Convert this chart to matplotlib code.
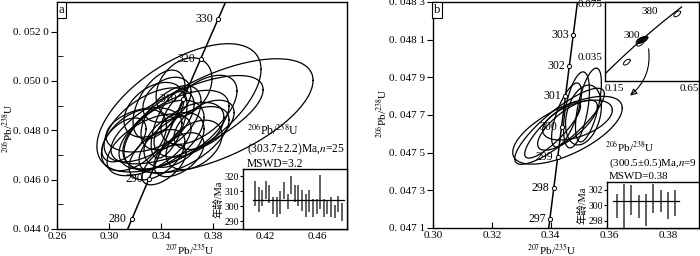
import numpy as np
import matplotlib
matplotlib.use('Agg')
import matplotlib.pyplot as plt

plt.rcParams['font.family'] = ['Liberation Serif', 'Noto Sans CJK SC']
plt.rcParams['mathtext.fontset'] = 'stix'
plt.rcParams['axes.linewidth'] = 1.0

# decay constants (1/yr) for the concordia curve
L238 = 1.55125e-10
L235 = 9.8485e-10

# ---- panel a: spots (207/235, 1s, 206/238, 1s, rho) ----
a_x = [0.3538, 0.3838, 0.3600, 0.3577, 0.3446, 0.3308, 0.3423, 0.3192, 0.3500, 0.3369,
       0.3615, 0.3692, 0.3477, 0.3346, 0.3269, 0.3538, 0.3423, 0.3654, 0.3115, 0.3731,
       0.3462, 0.3385, 0.3577, 0.3308, 0.3500]
a_sx = [0.0631, 0.0731, 0.0585, 0.0215, 0.0185, 0.0346, 0.0308, 0.0250, 0.0231, 0.0215,
        0.0269, 0.0292, 0.0231, 0.0231, 0.0292, 0.0192, 0.0169, 0.0215, 0.0170, 0.0231,
        0.0138, 0.0200, 0.0346, 0.0323, 0.0423]
a_y = [0.04891, 0.04859, 0.04843, 0.04973, 0.04924, 0.04822, 0.04782, 0.04761, 0.04761, 0.04701,
       0.04802, 0.04883, 0.04851, 0.04883, 0.04802, 0.04701, 0.04660, 0.04741, 0.04761, 0.04822,
       0.04822, 0.04904, 0.04761, 0.04741, 0.04802]
a_sy = [0.00260, 0.00231, 0.00179, 0.00121, 0.00091, 0.00150, 0.00140, 0.00125, 0.00111, 0.00102,
        0.00111, 0.00140, 0.00130, 0.00111, 0.00090, 0.00089, 0.00081, 0.00100, 0.00089, 0.00100,
        0.00135, 0.00140, 0.00135, 0.00125, 0.00160]
a_rho = [0.60, 0.62, 0.68, 0.30, 0.35, 0.55, 0.50, 0.45, 0.40, 0.50,
         0.45, 0.55, 0.50, 0.40, 0.30, 0.50, 0.60, 0.40, 0.50, 0.50,
         0.60, 0.50, 0.60, 0.55, 0.60]
a_label_ages = [280, 290, 310, 320, 330]
a_ages_hi = [317, 313, 311, 317, 314, 306, 306, 310, 316, 308, 320, 314, 314,
             311, 308, 311, 305, 305, 321, 305, 304, 306, 301, 307, 302]
a_ages_lo = [300, 296, 300, 305, 302, 295, 293, 295, 305, 298, 308, 303, 300,
             297, 293, 296, 293, 295, 298, 293, 295, 293, 292, 296, 290]
a_mean = 303.7

# ---- panel b ----
b_x = [0.34576, 0.34305, 0.35288, 0.34881, 0.34542, 0.35119, 0.34576, 0.34915, 0.34068]
b_sx = [0.01864, 0.01525, 0.00441, 0.00441, 0.00508, 0.00610, 0.01017, 0.01186, 0.00949]
b_y = [0.047619, 0.047640, 0.047753, 0.047727, 0.047700, 0.047700, 0.047646, 0.047673, 0.047620]
b_sy = [0.000180, 0.000202, 0.000196, 0.000202, 0.000170, 0.000159, 0.000133, 0.000106, 0.000149]
b_rho = [0.65, 0.85, 0.60, 0.50, 0.70, 0.30, 0.75, 0.50, 0.85]
b_label_ages = [297, 298, 299, 300, 301, 302, 303]
b_ages_hi = [301.5, 302.8, 302.6, 301.3, 301.5, 302.8, 302.0, 301.7, 302.0]
b_ages_lo = [298.4, 297.1, 298.8, 298.4, 297.3, 299.0, 299.2, 298.2, 298.6]
b_mean = 300.5

# small overview inset of panel b (all spots)
o_x = [0.266, 0.534, 0.333, 0.340, 0.345, 0.350, 0.355, 0.360, 0.338]
o_y = [0.0311, 0.0671, 0.0470, 0.0476, 0.0474, 0.0480, 0.0478, 0.0482, 0.0452]

a_yticks = [0.044, 0.046, 0.048, 0.050, 0.052]
a_yticklabels = ['0. 044 0', '0. 046 0', '0. 048 0', '0. 050 0', '0. 052 0']
a_xticks = [0.26, 0.30, 0.34, 0.38, 0.42, 0.46]
b_yticks = [0.0471, 0.0473, 0.0475, 0.0477, 0.0479, 0.0481, 0.0483]
b_yticklabels = ['0. 047 1', '0. 047 3', '0. 047 5', '0. 047 7', '0. 047 9', '0. 048 1', '0. 048 3']
b_xticks = [0.30, 0.32, 0.34, 0.36, 0.38]


def concordia(age_ma):
    t = np.asarray(age_ma, dtype=float) * 1e6
    return np.exp(L235 * t) - 1, np.exp(L238 * t) - 1


def ellipse(ax, x, sx, y, sy, rho, lw=0.9):
    t = np.linspace(0, 2 * np.pi, 150)
    ex = x + sx * np.cos(t)
    ey = y + sy * (rho * np.cos(t) + np.sqrt(1 - rho ** 2) * np.sin(t))
    ax.plot(ex, ey, color='black', lw=lw, zorder=2)


def agebars(ax, hi, lo, mean):
    n = len(hi)
    pos = np.arange(1, n + 1)
    ax.vlines(pos, lo, hi, color='#555555', lw=1.3)
    ax.plot([pos[0] - 0.6, pos[-1] + 0.6], [mean, mean], color='black', lw=0.9)


fig = plt.figure(figsize=(7, 2.56), dpi=100)
isup = r'$^{206}$Pb/$^{238}$U'
isox = r'$^{207}$Pb/$^{235}$U'
FS = 8

# ================= panel a =================
ax = fig.add_axes([0.0814, 0.1055, 0.4143, 0.8867])
for i in range(len(a_x)):
    ellipse(ax, a_x[i], a_sx[i], a_y[i], a_sy[i], a_rho[i])
cx, cy = concordia(np.linspace(270, 345, 50))
ax.plot(cx, cy, color='black', lw=1.1, zorder=3)
px, py = concordia(a_label_ages)
ax.plot(px, py, 'o', ms=3, mfc='white', mec='black', mew=0.7, zorder=4)
for age, xx, yy in zip(a_label_ages, px, py):
    ax.annotate(str(age), (xx, yy), xytext=(-4, 0), textcoords='offset points',
                ha='right', va='center', fontsize=8.5)
ax.set_xlim(0.26, 0.483)
ax.set_ylim(0.044, 0.0532)
ax.set_xticks(a_xticks)
ax.set_xticklabels(['%.2f' % v for v in a_xticks])
ax.set_yticks(a_yticks)
ax.set_yticklabels(a_yticklabels)
ax.set_yticks([0.045, 0.047, 0.049, 0.051], minor=True)
ax.tick_params(axis='x', direction='in', length=4, labelsize=FS, pad=2)
ax.tick_params(axis='y', direction='out', length=4, labelsize=FS, pad=2)
ax.tick_params(axis='y', which='minor', direction='in', length=4)
fig.text(190 / 700, 1 - 250 / 256, isox, ha='center', va='center', fontsize=FS)
fig.text(8 / 700, 1 - 128 / 256, isup, ha='center', va='center', rotation=90, fontsize=FS)
ax.text(0.006, 0.992, 'a', transform=ax.transAxes, ha='left', va='top', fontsize=9,
        bbox=dict(boxstyle='square,pad=0.15', fc='white', ec='black', lw=0.8))
ax.text(0.655, 0.42, isup, transform=ax.transAxes, fontsize=8.5)
ax.text(0.655, 0.34, r'(303.7±2.2)Ma,$n$=25', transform=ax.transAxes, fontsize=8.3)
ax.text(0.655, 0.275, 'MSWD=3.2', transform=ax.transAxes, fontsize=8.3)

ia = fig.add_axes([0.3471, 0.1055, 0.1486, 0.2344])
agebars(ia, a_ages_hi, a_ages_lo, a_mean)
ia.set_xlim(-2.3, 26.4)
ia.set_ylim(284.7, 324.7)
ia.set_xticks([])
ia.set_yticks([290, 300, 310, 320])
ia.tick_params(axis='y', direction='out', length=2, labelsize=7, pad=1)
ia.set_ylabel('年龄/Ma', fontsize=7.5, labelpad=1)

# ================= panel b =================
bx = fig.add_axes([0.6186, 0.1094, 0.38, 0.8828])
for i in range(len(b_x)):
    ellipse(bx, b_x[i], b_sx[i], b_y[i], b_sy[i], b_rho[i])
cx, cy = concordia(np.linspace(296, 305, 30))
bx.plot(cx, cy, color='black', lw=1.1, zorder=3)
px, py = concordia(b_label_ages)
bx.plot(px, py, 'o', ms=3, mfc='white', mec='black', mew=0.7, zorder=4)
for age, xx, yy in zip(b_label_ages, px, py):
    bx.annotate(str(age), (xx, yy), xytext=(-3, 0), textcoords='offset points',
                ha='right', va='center', fontsize=8.5)
bx.set_xlim(0.30, 0.3905)
bx.set_ylim(0.0471, 0.0483)
bx.set_xticks(b_xticks)
bx.set_xticklabels(['%.2f' % v for v in b_xticks])
bx.set_yticks(b_yticks)
bx.set_yticklabels(b_yticklabels)
bx.tick_params(axis='x', direction='in', length=4, labelsize=FS, pad=2)
bx.tick_params(axis='y', direction='out', length=4, labelsize=FS, pad=2)
fig.text(552 / 700, 1 - 250 / 256, isox, ha='center', va='center', fontsize=FS)
fig.text(382 / 700, 1 - 113 / 256, isup, ha='center', va='center', rotation=90, fontsize=FS)
bx.text(0.004, 0.992, 'b', transform=bx.transAxes, ha='left', va='top', fontsize=9,
        bbox=dict(boxstyle='square,pad=0.15', fc='white', ec='black', lw=0.8))
bx.text(0.645, 0.34, isup, transform=bx.transAxes, fontsize=8)
bx.text(0.662, 0.275, r'(300.5±0.5)Ma,$n$=9', transform=bx.transAxes, fontsize=7.9)
bx.text(0.662, 0.215, 'MSWD=0.38', transform=bx.transAxes, fontsize=7.9)

ib = fig.add_axes([0.8671, 0.1094, 0.1314, 0.1797])
agebars(ib, b_ages_hi, b_ages_lo, b_mean)
ib.set_xlim(-0.38, 12.3)
ib.set_ylim(297.1, 303.0)
ib.set_xticks([])
ib.set_yticks([298, 300, 302])
ib.tick_params(axis='y', direction='out', length=2, labelsize=7, pad=1)
ib.set_ylabel('年龄/Ma', fontsize=7.5, labelpad=1)

# overview inset in panel b
ob = fig.add_axes([0.8643, 0.6836, 0.1343, 0.3086])
cx, cy = concordia(np.linspace(100, 450, 60))
ob.plot(cx, cy, color='black', lw=0.9)
for xx, yy in zip(o_x, o_y):
    ellipse(ob, xx, 0.018, yy, 0.0022, 0.6, lw=0.7)
ob.text(0.335, 0.0478, '300', ha='right', va='bottom', fontsize=8)
ob.text(0.43, 0.0655, '380', ha='right', va='bottom', fontsize=8)
ob.set_xlim(0.15, 0.65)
ob.set_ylim(0.017, 0.076)
ob.set_xticks([0.15, 0.65])
ob.set_xticklabels(['0.15', '0.65'])
ob.set_yticks([0.035, 0.075])
ob.set_yticklabels(['0.035', '0.075'])
ob.tick_params(length=0, labelsize=8, pad=2)
xl = ob.get_xticklabels()
xl[0].set_ha('left')
xl[1].set_ha('right')
fig.patches.append(matplotlib.patches.FancyArrowPatch(
    (0.926, 0.82), (0.897, 0.62), transform=fig.transFigure,
    connectionstyle='arc3,rad=-0.3', arrowstyle='-|>,head_length=4,head_width=2',
    color='black', lw=0.8, fill=False))

fig.savefig('out.png', dpi=100)
